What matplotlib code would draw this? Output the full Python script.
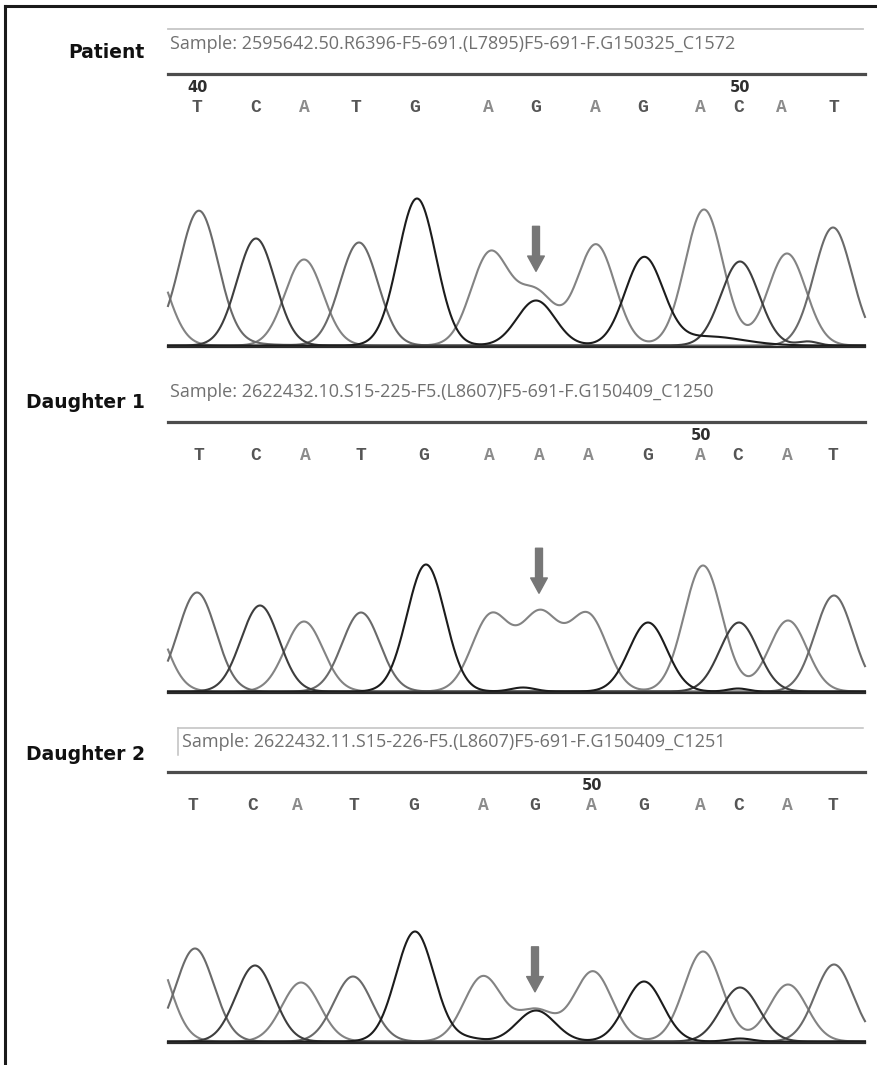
import numpy as np
import matplotlib.pyplot as plt
from matplotlib.lines import Line2D
from matplotlib.transforms import blended_transform_factory

W, H = 878, 1065

# ---- data (scan units along the trace, peak heights) ----
patient_sample = "Sample: 2595642.50.R6396-F5-691.(L7895)F5-691-F.G150325_C1572"
patient_calls = list("TCATGAGAGACAT")
patient_first_no = 40
patient_call_pos = [29, 88, 136, 188, 247, 320, 368, 427, 475, 532, 571, 613, 666]
patient_peak_base = ["A", "T", "C", "A", "T", "G", "A", "A", "G", "A", "G", "A", "C", "A", "T"]
patient_peak_pos = [-20, 31, 88, 136, 191, 249, 322, 368, 368, 428, 476, 536, 572, 619, 665]
patient_peak_h = [92, 129, 107, 86, 103, 147, 92, 52, 45, 101, 87, 136, 84, 92, 118]
patient_minor_base = ["T", "G", "C"]
patient_minor_pos = [20, 540, 640]
patient_minor_h = [6, 9, 4]
patient_minor_w = [45, 35, 10]

d1_sample = "Sample: 2622432.10.S15-225-F5.(L8607)F5-691-F.G150409_C1250"
d1_calls = list("TCATGAAAGACAT")
d1_first_no = 41
d1_call_pos = [31, 88, 137, 193, 256, 321, 371, 420, 480, 532, 570, 619, 665]
d1_peak_base = ["A", "T", "C", "A", "T", "G", "A", "A", "A", "G", "A", "C", "A", "T"]
d1_peak_pos = [-22, 29, 92, 136, 193, 258, 323, 372, 420, 480, 535, 571, 620, 666]
d1_peak_h = [82, 99, 86, 70, 79, 127, 76, 76, 76, 69, 126, 69, 71, 96]
d1_minor_base = ["G", "G"]
d1_minor_pos = [355, 570]
d1_minor_h = [4, 3]
d1_minor_w = [12, 10]

d2_sample = "Sample: 2622432.11.S15-226-F5.(L8607)F5-691-F.G150409_C1251"
d2_calls = list("TCATGAGAGACAT")
d2_first_no = 43
d2_call_pos = [25, 85, 129, 186, 246, 315, 367, 423, 476, 532, 571, 619, 665]
d2_peak_base = ["A", "T", "C", "A", "T", "G", "A", "A", "G", "A", "G", "A", "C", "A", "T"]
d2_peak_pos = [-18, 27, 87, 133, 185, 247, 315, 368, 368, 425, 476, 535, 572, 620, 666]
d2_peak_h = [96, 93, 76, 59, 65, 110, 65, 31, 31, 70, 60, 90, 54, 57, 77]
d2_minor_base = ["G", "G"]
d2_minor_pos = [572, 300]
d2_minor_h = [3, 3]
d2_minor_w = [12, 14]

arrow_call_index = 6   # the mutated base

SIGMA = 19
channel_color = {"A": "#838383", "T": "#6a6a6a", "C": "#3e3e3e", "G": "#1c1c1c"}
call_color = {"A": "#8c8c8c", "T": "#555555", "C": "#555555", "G": "#555555"}

panels = [
    dict(label="Patient", sample=patient_sample, calls=patient_calls, first=patient_first_no,
         call_pos=patient_call_pos, pb=patient_peak_base, pp=patient_peak_pos, ph=patient_peak_h,
         mb=patient_minor_base, mp=patient_minor_pos, mh=patient_minor_h, mw=patient_minor_w,
         top=74, base=347, label_y=53, text_y=44, text_x=170, thin=True, box=False),
    dict(label="Daughter 1", sample=d1_sample, calls=d1_calls, first=d1_first_no,
         call_pos=d1_call_pos, pb=d1_peak_base, pp=d1_peak_pos, ph=d1_peak_h,
         mb=d1_minor_base, mp=d1_minor_pos, mh=d1_minor_h, mw=d1_minor_w,
         top=422, base=693, label_y=403, text_y=392, text_x=170, thin=False, box=False),
    dict(label="Daughter 2", sample=d2_sample, calls=d2_calls, first=d2_first_no,
         call_pos=d2_call_pos, pb=d2_peak_base, pp=d2_peak_pos, ph=d2_peak_h,
         mb=d2_minor_base, mp=d2_minor_pos, mh=d2_minor_h, mw=d2_minor_w,
         top=772, base=1043, label_y=754, text_y=742, text_x=182, thin=False, box=True),
]


def fx(px):
    return px / W


def fy(py):
    return 1 - py / H


def channel_trace(x, bases, pos, hts, wid, ch):
    y = np.zeros_like(x)
    for b, p, h, w in zip(bases, pos, hts, wid):
        if b == ch:
            y += h * np.exp(-0.5 * ((x - p) / w) ** 2)
    return y


fig = plt.figure(figsize=(W / 100, H / 100), dpi=100)

# outer frame (top and left only)
fig.add_artist(Line2D([fx(5), fx(878)], [fy(6), fy(6)], color="#1a1a1a", lw=2.2))
fig.add_artist(Line2D([fx(5), fx(5)], [fy(6), fy(1065)], color="#1a1a1a", lw=2.2))

X0, X1 = 168, 865
x = np.linspace(0, X1 - X0, 1600)

for p in panels:
    hpx = p["base"] - p["top"]
    ax = fig.add_axes([fx(X0), fy(p["base"]), (X1 - X0) / W, hpx / H])
    ax.set_xlim(0, X1 - X0)
    ax.set_ylim(0, hpx)
    ax.set_xticks([])
    ax.set_yticks([])
    ax.patch.set_alpha(0)
    for s in ("left", "right"):
        ax.spines[s].set_visible(False)
    ax.spines["top"].set_color("#4c4c4c")
    ax.spines["top"].set_linewidth(2.3)
    ax.spines["bottom"].set_color("#2a2a2a")
    ax.spines["bottom"].set_linewidth(1.6)

    total = {}
    for ch in ["A", "T", "C", "G"]:
        y = channel_trace(x, p["pb"], p["pp"], p["ph"], [SIGMA] * len(p["pp"]), ch)
        y += channel_trace(x, p["mb"], p["mp"], p["mh"], p["mw"], ch)
        total[ch] = y
        ax.plot(x, y + 1.5, color=channel_color[ch], lw=1.5, solid_joinstyle="round", clip_on=False)

    # base calls and numbering
    tr = blended_transform_factory(ax.transData, ax.transAxes)
    for i, (b, xp) in enumerate(zip(p["calls"], p["call_pos"])):
        ax.text(xp, 1 - 33 / hpx, b, transform=tr, ha="center", va="center",
                family="Liberation Mono", weight="bold", fontsize=13, color=call_color[b])
        no = p["first"] + i
        if no % 10 == 0:
            ax.text(xp + 1, 1 - 13 / hpx, str(no), transform=tr, ha="center", va="center",
                    family="DejaVu Sans", weight="bold", fontsize=10.5, color="#2e2e2e")

    # arrow at the variant position
    ax_x = p["call_pos"][arrow_call_index]
    idx = np.argmin(np.abs(x - ax_x))
    peak_top = max(total["A"][idx], total["G"][idx])
    ax.annotate("", xy=(ax_x, peak_top + 18), xytext=(ax_x, peak_top + 63),
                arrowprops=dict(arrowstyle="simple,head_length=0.55,head_width=0.6,tail_width=0.25",
                                color="#777777", mutation_scale=20, shrinkA=0, shrinkB=0))

    # header: sample name
    fig.text(fx(p["text_x"]), fy(p["text_y"]), p["sample"], ha="left", va="center",
             family="Open Sans", fontsize=13, color="#707070")
    if p["thin"]:
        fig.add_artist(Line2D([fx(168), fx(863)], [fy(29), fy(29)], color="#c6c6c6", lw=1.3))
    if p["box"]:
        fig.add_artist(Line2D([fx(178), fx(863)], [fy(728), fy(728)], color="#c0c0c0", lw=1.1))
        fig.add_artist(Line2D([fx(178), fx(178)], [fy(728), fy(755)], color="#c0c0c0", lw=1.1))

    fig.text(fx(145), fy(p["label_y"]), p["label"], ha="right", va="center",
             family="DejaVu Sans", weight="bold", fontsize=13.5, color="#111111")

fig.savefig("out.png", dpi=100)
